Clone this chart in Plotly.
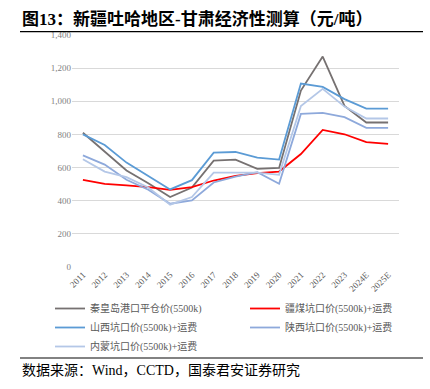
import plotly.graph_objects as go

years = ["2011", "2012", "2013", "2014", "2015", "2016", "2017", "2018", "2019",
         "2020", "2021", "2022", "2023", "2024E", "2025E"]

qhd_price = [810, 697, 582, 506, 422, 480, 642, 648, 592, 598, 1065, 1270, 972, 872, 872]
xj_price = [526, 502, 492, 482, 466, 482, 522, 550, 566, 576, 682, 827, 801, 753, 743]
sx_price = [800, 736, 630, 550, 468, 524, 690, 694, 660, 648, 1107, 1087, 1013, 956, 956]
shx_price = [674, 618, 526, 466, 382, 402, 510, 546, 572, 502, 924, 930, 904, 840, 840]
nm_price = [650, 576, 542, 480, 376, 422, 570, 570, 570, 556, 972, 1075, 968, 896, 896]

# (name, values, colour, legend column)
series = [
    ("秦皇岛港口平仓价(5500k)", qhd_price, "#767171", "legend"),
    ("疆煤坑口价(5500k)+运费", xj_price, "#FF0000", "legend2"),
    ("山西坑口价(5500k)+运费", sx_price, "#5B9BD5", "legend"),
    ("陕西坑口价(5500k)+运费", shx_price, "#8EA9DB", "legend2"),
    ("内蒙坑口价(5500k)+运费", nm_price, "#B4C7E7", "legend"),
]

fig = go.Figure()
for name, vals, color, lg in series:
    fig.add_trace(go.Scatter(x=years, y=vals, mode="lines", name=name, legend=lg,
                             line=dict(color=color, width=1.8)))

serif = "Liberation Serif, Times New Roman, Noto Sans CJK SC, serif"
cjk = "Liberation Serif, Noto Sans CJK SC, sans-serif"

legend_common = dict(orientation="v", xanchor="left", yanchor="top",
                     font=dict(family=cjk, size=10, color="#595959"),
                     tracegroupgap=0, bgcolor="rgba(0,0,0,0)")

legend_top = -(294 - 267) / 232

fig.update_layout(
    width=430, height=389,
    margin=dict(l=72, r=31, t=35, b=122),
    paper_bgcolor="white", plot_bgcolor="white",
    showlegend=True,
    legend=dict(x=(50 - 72) / 327, y=legend_top, **legend_common),
    legend2=dict(x=(245 - 72) / 327, y=legend_top, **legend_common),
    xaxis=dict(type="category", range=[-0.5, 14.5], showgrid=False, showline=False,
               ticks="", tickangle=-45,
               tickfont=dict(family=serif, size=9, color="#595959")),
    yaxis=dict(range=[0, 1400], dtick=200, tickformat=",", showgrid=True,
               gridcolor="#D9D9D9", gridwidth=1, zeroline=False, showline=False,
               ticks="", tickfont=dict(family=serif, size=9, color="#7F7F7F")),
)

fig.add_annotation(text="<b>图13：新疆吐哈地区-甘肃经济性测算（元/吨）</b>",
                   xref="paper", yref="paper", x=(20 - 72) / 327, y=1.0, yshift=16,
                   xanchor="left", yanchor="middle", showarrow=False,
                   font=dict(family=cjk, size=17, color="#000000"))
fig.add_annotation(text="数据来源：Wind，CCTD，国泰君安证券研究",
                   xref="paper", yref="paper", x=(20 - 72) / 327, y=0, yshift=-103,
                   xanchor="left", yanchor="middle", showarrow=False,
                   font=dict(family=cjk, size=14, color="#000000"))

top_rule = 1.0 + 3.3 / 232
bottom_rule = -(358 - 267) / 232
fig.add_shape(type="line", xref="paper", yref="paper",
              x0=(20 - 72) / 327, x1=(423 - 72) / 327, y0=top_rule, y1=top_rule,
              line=dict(color="#000000", width=1.3))
fig.add_shape(type="line", xref="paper", yref="paper",
              x0=(20 - 72) / 327, x1=(423 - 72) / 327, y0=bottom_rule, y1=bottom_rule,
              line=dict(color="#595959", width=1.3))

fig.write_html("out.html", config={"displayModeBar": False},
               post_script="document.body.style.margin='0';")
